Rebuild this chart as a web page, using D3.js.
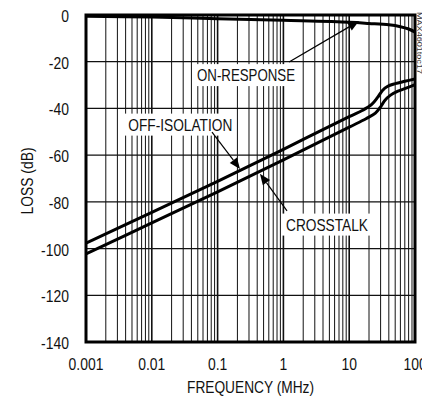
<!DOCTYPE html>
<html><head><meta charset="utf-8">
<script src="https://cdn.jsdelivr.net/npm/d3@7"></script>
<style>
html,body{margin:0;padding:0;background:#fff;}
svg{display:block;font-family:"Liberation Sans",Arial,sans-serif;}
</style></head>
<body>
<svg id="c" width="422" height="402"></svg>
<script>
// ---- data ----
const yTicks = [0, -20, -40, -60, -80, -100, -120, -140];
const xTicks = [0.001, 0.01, 0.1, 1, 10, 100];
const xTickLabels = ["0.001", "0.01", "0.1", "1", "10", "100"];

const onFreq = [0.001, 0.01, 0.1, 1, 10, 20, 40, 60, 80, 100];
const onLoss = [-0.5, -0.9, -1.6, -2.3, -3.1, -3.6, -4.2, -5.0, -6.0, -7.3];

const offFreq = [0.001, 0.01, 0.1, 1, 10, 16, 22, 27, 32, 38, 50, 70, 100];
const offLoss = [-97.7, -84.5, -71.2, -57.5, -43.5, -40.8, -38.3, -35.3, -32.3, -30.6, -29.4, -28.4, -27.4];

const xtFreq = [0.001, 0.01, 0.1, 1, 10, 18, 25, 30, 35, 42, 55, 75, 100];
const xtLoss = [-102.3, -89.0, -75.7, -62.0, -48.0, -44.4, -42.0, -39.3, -36.5, -34.4, -32.6, -31.2, -29.8];

// annotations (data units): label anchor + arrow from/to
const labelText = ["ON-RESPONSE", "OFF-ISOLATION", "CROSSTALK"];
const labelAt   = [[0.0487, -28.3], [0.0044, -49.5], [1.095, -92.3]];
const labelLen  = [98, 104, 82];
const arrowFrom = [[1.22, -20.1], [0.0822, -50.1], [1.135, -83.9]];
const arrowTo   = [[14.1, -2.6], [0.219, -65.9], [0.44, -68.0]];

// ---- chart ----
const svg = d3.select("#c");
const L = 86, R = 415, T = 15, B = 342;
const SX = 0.82; // condensed look
const x = d3.scaleLog().domain([0.001, 100]).range([L, R]);
const y = d3.scaleLinear().domain([-140, 0]).range([B, T]);

function ctext(g, tx, ty, str, anchor) {
  return g.append("g").attr("transform", `translate(${tx},${ty}) scale(${SX},1)`)
    .append("text").attr("text-anchor", anchor).attr("font-size", 17)
    .attr("fill", "#111").text(str);
}

svg.append("defs").append("clipPath").attr("id","clip")
  .append("rect").attr("x",L).attr("y",T).attr("width",R-L).attr("height",B-T);

// vertical grid: 1..9 in each decade
const vgrid = [];
for (let e = -3; e < 2; e++) for (let m = 1; m <= 9; m++) vgrid.push(m * Math.pow(10, e));
svg.append("g").selectAll("line").data(vgrid).join("line")
  .attr("x1", d => x(d)).attr("x2", d => x(d))
  .attr("y1", T).attr("y2", B)
  .attr("stroke", "#111")
  .attr("stroke-width", (d, i) => (i % 9 === 0) ? 1.6 : 1);

// horizontal grid
svg.append("g").selectAll("line").data(yTicks.slice(1, -1)).join("line")
  .attr("x1", L).attr("x2", R)
  .attr("y1", d => y(d)).attr("y2", d => y(d))
  .attr("stroke", "#111").attr("stroke-width", 1.2);

// curves
const line = d3.line().x(d => x(d[0])).y(d => y(d[1])).curve(d3.curveCatmullRom.alpha(0.5));
const gC = svg.append("g").attr("clip-path", "url(#clip)");
[[onFreq, onLoss], [offFreq, offLoss], [xtFreq, xtLoss]].forEach(([f, v]) => {
  gC.append("path").datum(f.map((d, i) => [d, v[i]]))
    .attr("d", line).attr("fill", "none")
    .attr("stroke", "#000").attr("stroke-width", 3).attr("stroke-linejoin","round");
});

// frame
svg.append("rect").attr("x", L).attr("y", T).attr("width", R - L).attr("height", B - T)
  .attr("fill", "none").attr("stroke", "#000").attr("stroke-width", 3);

// labels with white boxes
labelText.forEach((t, i) => {
  const lx = x(labelAt[i][0]), ly = y(labelAt[i][1]);
  svg.append("rect").attr("x", lx - 4).attr("y", ly - 17)
    .attr("width", labelLen[i] + 7).attr("height", 22).attr("fill", "#fff");
  svg.append("text").attr("x", lx).attr("y", ly)
    .attr("font-size", 17).attr("textLength", labelLen[i])
    .attr("lengthAdjust", "spacingAndGlyphs").attr("fill", "#111").text(t);
});

// arrows
arrowFrom.forEach((a, i) => {
  const x1 = x(a[0]), y1 = y(a[1]), x2 = x(arrowTo[i][0]), y2 = y(arrowTo[i][1]);
  const ang = Math.atan2(y2 - y1, x2 - x1);
  const hl = 11, hw = 4.5;
  const bx = x2 - hl * Math.cos(ang), by = y2 - hl * Math.sin(ang);
  svg.append("line").attr("x1", x1).attr("y1", y1).attr("x2", bx).attr("y2", by)
    .attr("stroke", "#000").attr("stroke-width", 1.2);
  const px = -Math.sin(ang) * hw, py = Math.cos(ang) * hw;
  svg.append("path")
    .attr("d", `M${x2},${y2}L${bx + px},${by + py}L${bx - px},${by - py}Z`)
    .attr("fill", "#000");
});

// y tick labels
const gy = svg.append("g");
yTicks.forEach(d => ctext(gy, L - 17, y(d) + 7, d, "end"));

// x tick labels
const gx = svg.append("g");
xTicks.forEach((d, i) => ctext(gx, x(d), B + 28, xTickLabels[i], "middle"));

// axis titles
svg.append("text").attr("x", (L + R) / 2).attr("y", 393)
  .attr("text-anchor", "middle").attr("font-size", 17).attr("fill", "#111")
  .attr("textLength", 127).attr("lengthAdjust", "spacingAndGlyphs")
  .text("FREQUENCY (MHz)");
svg.append("text").attr("transform", "translate(33,181) rotate(-90)")
  .attr("text-anchor", "middle").attr("font-size", 17).attr("fill", "#111")
  .attr("textLength", 67).attr("lengthAdjust", "spacingAndGlyphs")
  .text("LOSS (dB)");

// figure code
svg.append("text").attr("transform", "translate(417,12) rotate(90)")
  .attr("font-size", 6.5).attr("fill", "#333")
  .attr("textLength", 62).attr("lengthAdjust", "spacingAndGlyphs")
  .text("MAX4601toc17");
</script>
</body></html>
